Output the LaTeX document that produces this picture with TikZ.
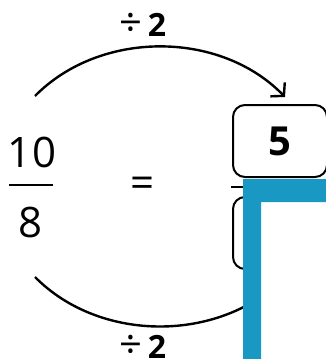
\documentclass[tikz,border=0pt]{standalone}
\usepackage{fontspec}
\setmainfont{Open Sans}
\usetikzlibrary{arrows.meta}
\definecolor{frameblue}{RGB}{26,152,196}
\begin{document}
\begin{tikzpicture}[x=1pt,y=-1pt,
  numtxt/.style={inner sep=0pt,font=\fontsize{42}{42}\selectfont},
  boldnum/.style={inner sep=0pt,font=\fontsize{40}{40}\selectfont\bfseries},
  oplabel/.style={inner sep=0pt,font=\fontsize{32}{32}\selectfont},
  ansbox/.style={draw,line width=2pt,rounded corners=12pt,minimum width=94pt,minimum height=72pt,inner sep=0pt},
  arcline/.style={line width=2.4pt},
  fracbar/.style={line width=2.5pt}]
\useasboundingbox (0,0) rectangle (326,359);
% left fraction
\node[numtxt] (num10) at (32,152) {10};
\node[numtxt] (den8) at (31,222) {8};
\draw[fracbar] (9,185) -- (53,185);
\node[numtxt] (eq) at (143,187) {=};
% answer boxes
\node[ansbox] (box5) at (280,141) {};
\node[boldnum] at (box5.center) {5};
\node[ansbox] (boxlow) at (280,233) {};
\draw[fracbar] (231,187) -- (326,187);
% arcs
\coordinate (ta) at (35,96);
\coordinate (tb) at (285,97);
\coordinate (ba) at (35,277);
\coordinate (bb) at (285,277);
\draw[arcline,-{Straight Barb[length=9pt,width=20pt]}] (ta) .. controls (100,30) and (220,30) .. (tb);
\draw[arcline] (ba) .. controls (100,343) and (220,343) .. (bb);
% labels
\node[oplabel] (divtop) at (143,25) {{\fontsize{40}{40}\selectfont ÷}\,\textbf{2}};
\node[oplabel] (divbot) at (143,347) {{\fontsize{40}{40}\selectfont ÷}\,\textbf{2}};
% blue frame overlay
\fill[white] (243,179) rectangle (326,359);
\fill[frameblue] (243,179) -- (326,179) -- (326,202) -- (261,202) -- (261,359) -- (243,359) -- cycle;
\end{tikzpicture}
\end{document}
